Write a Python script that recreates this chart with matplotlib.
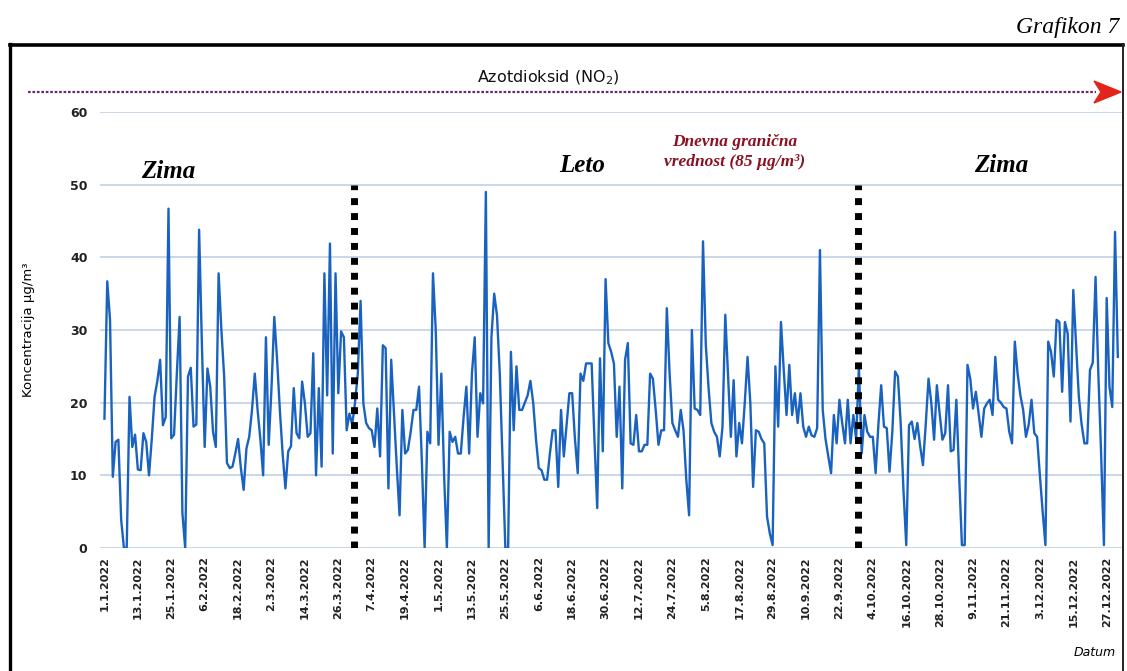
import matplotlib.pyplot as plt
import numpy as np

# daily NO2 concentration, 2022 (ug/m3), one list per month
jan = [17.8, 36.7, 31.4, 9.8, 14.6, 14.9, 3.9, 0, 0, 20.8, 13.9, 15.6, 10.8, 10.7, 15.8, 14.6,
       10.0, 15, 20.8, 23, 25.9, 16.9, 18, 46.7, 15.1, 15.6, 24, 31.8, 4.8, 0, 23.6]
feb = [24.8, 16.7, 17, 43.8, 28, 13.9, 24.7, 22.2, 16, 13.9, 37.8, 30, 23.6, 11.7, 11, 11.2,
       13, 15, 11, 8, 13.7, 15.3, 19, 24, 19, 15, 10, 29]
mar = [14.2, 22, 31.8, 26, 19, 13, 8.2, 13.3, 14, 22, 15.8, 15.1, 22.9, 19.9, 15.3, 15.8,
       26.8, 10, 22, 11.2, 37.8, 21, 41.9, 13, 37.8, 21.3, 29.8, 29, 16.2, 18.5, 17]
apr = [20, 24, 34, 19.9, 17.2, 16.5, 16.2, 13.9, 19.2, 12.6, 27.9, 27.5, 8.2, 25.9, 18.5,
       11.2, 4.5, 19, 13, 13.5, 16, 19, 19, 22.2, 12.1, 0, 16, 14.4, 37.8, 30]
may = [14.2, 24, 10, 0, 16, 14.6, 15.3, 13, 13, 18, 22.2, 13, 24, 29, 15.3, 21.3, 19.9, 49,
       0, 29, 35, 32, 24, 12, 0, 0, 27, 16.2, 25, 19, 19]
jun = [20, 21, 23, 20, 15, 11, 10.7, 9.4, 9.4, 13, 16.2, 16.2, 8.4, 19, 12.6, 17, 21.3, 21.3,
       15, 10.3, 24, 23, 25.4, 25.4, 25.4, 15, 5.5, 26.1, 13.3, 37]
jul = [28.2, 27, 25.4, 15.3, 22.2, 8.2, 25.9, 28.2, 14.4, 14.2, 18.3, 13.3, 13.3, 14.2, 14.2,
       24, 23.3, 19, 14.2, 16.2, 16.2, 33, 24, 17.2, 16.2, 15.3, 19, 16.2, 9.4, 4.5, 30]
aug = [19.2, 19, 18.3, 42.2, 28, 22, 17.2, 16, 15.3, 12.6, 16.7, 32.1, 23.6, 15.3, 23.1, 12.6,
       17.2, 14.4, 20, 26.3, 19.9, 8.4, 16.2, 16, 15, 14.4, 4.3, 2, 0.4, 25, 16.7]
sep = [31.1, 24.5, 18.3, 25.2, 18.3, 21.3, 17.2, 21.3, 16.7, 15.3, 16.7, 15.5, 15.3, 16.5, 41,
       19, 15, 12.6, 10.3, 18.3, 14.4, 20.4, 17.2, 14.4, 20.4, 14.4, 18.3, 15, 25, 13]
oct_ = [18.3, 16, 15.3, 15.3, 10.3, 17, 22.4, 16.7, 16.5, 10.5, 16, 24.3, 23.6, 17.2, 8, 0.4,
        16.9, 17.4, 15, 17.2, 14, 11.4, 17, 23.3, 20, 14.9, 22.4, 18.5, 14.9, 15.8, 22.4]
nov = [13.3, 13.5, 20.4, 10, 0.4, 0.4, 25.2, 23.3, 19.2, 21.5, 18.5, 15.3, 19.2, 19.9, 20.4,
       18.3, 26.3, 20.4, 20, 19.4, 19.2, 16, 14.4, 28.4, 24, 21, 19, 15.3, 17, 20.4]
dec = [15.8, 15.3, 10, 5, 0.4, 28.4, 27, 23.6, 31.4, 31.1, 21.5, 31.1, 29.5, 17.4, 35.5, 28,
       20.8, 17, 14.4, 14.4, 24.5, 25.5, 37.3, 24, 13, 0.4, 34.4, 22.2, 19.4, 43.5, 26.3]

no2 = np.array(jan + feb + mar + apr + may + jun + jul + aug + sep + oct_ + nov + dec)
days = np.arange(len(no2))

tick_days = list(range(0, 361, 12))
tick_labels = ["1.1.2022", "13.1.2022", "25.1.2022", "6.2.2022", "18.2.2022", "2.3.2022",
               "14.3.2022", "26.3.2022", "7.4.2022", "19.4.2022", "1.5.2022", "13.5.2022",
               "25.5.2022", "6.6.2022", "18.6.2022", "30.6.2022", "12.7.2022", "24.7.2022",
               "5.8.2022", "17.8.2022", "29.8.2022", "10.9.2022", "22.9.2022", "4.10.2022",
               "16.10.2022", "28.10.2022", "9.11.2022", "21.11.2022", "3.12.2022",
               "15.12.2022", "27.12.2022"]
y_ticks = [0, 10, 20, 30, 40, 50, 60]
season_breaks = [89.5, 270.5]
season_top = 50

W, H = 1127, 671
fig = plt.figure(figsize=(W / 100, H / 100), dpi=100)
fig.patch.set_facecolor("white")

# page decoration in pixel coordinates
deco = fig.add_axes([0, 0, 1, 1])
deco.set_xlim(0, W)
deco.set_ylim(H, 0)
deco.axis("off")
deco.plot([10, 1123], [45, 45], color="black", lw=2.6)
deco.plot([10, 10], [44, H], color="black", lw=2.4)
deco.plot([1123, 1123], [44, H], color="#222222", lw=1.4)
deco.plot([28, 1096], [92, 92], color="#6b2a6e", lw=1.6, linestyle=(0, (1.2, 0.8)))
deco.fill([1094, 1121, 1094, 1101], [81, 92, 103, 92], color="#e3241b")

serif = "Liberation Serif"
deco.text(1119, 28, "Grafikon 7", ha="right", va="center", family=serif, style="italic", fontsize=17)
deco.text(548, 78, "Azotdioksid (NO$_2$)", ha="center", va="center", fontsize=11.5, color="#111111")
for sx, sy, name in [(168, 172, "Zima"), (582, 165, "Leto"), (1001, 165, "Zima")]:
    deco.text(sx, sy, name, ha="center", va="center", family=serif, style="italic",
              weight="bold", fontsize=18)
deco.text(735, 152, "Dnevna granična\nvrednost (85 µg/m³)", ha="center", va="center",
          family=serif, style="italic", weight="bold", fontsize=12.5, color="#8b1020",
          linespacing=1.25)
deco.text(1095, 652, "Datum", ha="center", va="center", style="italic", fontsize=9)

ax = fig.add_axes([100 / W, (H - 548) / H, 1022 / W, 436 / H])
ax.set_facecolor("none")
ax.set_xlim(-1.6, 365.5)
ax.set_ylim(0, 60)
for s in ax.spines.values():
    s.set_visible(False)
ax.set_yticks(y_ticks)
ax.grid(axis="y", color="#bccde0", lw=1.1)
ax.set_axisbelow(True)

ax.plot(days, no2, color="#1a62c0", lw=1.7, zorder=3)
for xb in season_breaks:
    ax.plot([xb, xb], [0, season_top], color="black", lw=5, linestyle=(0, (1, 1.15)), zorder=4)

ax.set_xticks(tick_days)
ax.set_xticklabels(tick_labels, rotation=90, fontsize=8, weight="bold", color="#222222")
ax.tick_params(axis="x", length=0, pad=6)
ax.tick_params(axis="y", length=0, pad=9, labelsize=9, labelcolor="#222222")
for lab in ax.get_yticklabels():
    lab.set_fontweight("bold")
ax.set_ylabel("Koncentracija µg/m³", fontsize=9.5)
ax.yaxis.set_label_coords(-0.0636, 0.5)

fig.savefig("out.png", dpi=100)
